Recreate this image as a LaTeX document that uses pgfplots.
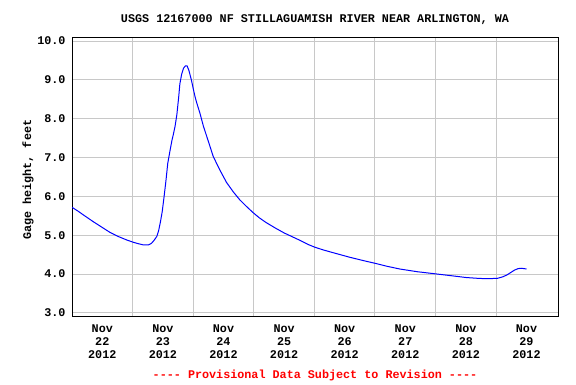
\documentclass[border=0pt]{standalone}
\usepackage{fontspec}
\setmainfont{Liberation Mono}
\usepackage{pgfplots}
\pgfplotsset{compat=1.18}
\definecolor{gridgray}{RGB}{200,200,200}
\newcommand\chartfont{\fontsize{11.8}{13}\selectfont\bfseries}
\begin{document}
\begin{tikzpicture}
\begin{axis}[
  scale only axis,
  width=486bp, height=278bp,
  xmin=0, xmax=8.02,
  ymin=2.92, ymax=10.08,
  axis line style={black, line width=1bp},
  ytick={3,4,5,6,7,8,9,10},
  yticklabel style={/pgf/number format/fixed, /pgf/number format/fixed zerofill, /pgf/number format/precision=1, /pgf/number format/assume math mode=true, font=\chartfont, xshift=-3bp},
  xtick={0.5,1.5,2.5,3.5,4.5,5.5,6.5,7.5},
  xticklabels={{Nov\\22\\2012},{Nov\\23\\2012},{Nov\\24\\2012},{Nov\\25\\2012},{Nov\\26\\2012},{Nov\\27\\2012},{Nov\\28\\2012},{Nov\\29\\2012}},
  xticklabel style={align=center, font=\chartfont, yshift=-5bp},
  minor xtick={1,2,3,4,5,6,7},
  xminorgrids=true, ymajorgrids=true,
  grid style={gridgray, line width=1bp},
  minor grid style={gridgray, line width=1bp},
  major tick length=0pt, minor tick length=0pt,
  ylabel={Gage height, feet},
  ylabel style={at={(axis description cs:-0.0905,0.49)}, anchor=center, font=\chartfont},
  clip=true,
]
\addplot[blue, line width=1bp] coordinates {
(0.00,5.72) (0.10,5.62) (0.20,5.51) (0.35,5.35) (0.50,5.20) (0.63,5.07) (0.76,4.97) (0.90,4.88)
(1.01,4.82) (1.10,4.78) (1.18,4.75) (1.26,4.75) (1.31,4.79) (1.35,4.86) (1.40,4.97) (1.43,5.12)
(1.46,5.35) (1.49,5.62) (1.52,6.00) (1.55,6.40) (1.58,6.85) (1.62,7.20) (1.65,7.45) (1.67,7.58)
(1.70,7.80) (1.73,8.10) (1.76,8.55) (1.78,8.90) (1.81,9.15) (1.84,9.30) (1.87,9.36) (1.90,9.36)
(1.93,9.24) (1.97,9.00) (2.00,8.78) (2.03,8.57) (2.06,8.40) (2.11,8.15) (2.17,7.80) (2.25,7.42)
(2.33,7.03) (2.44,6.68) (2.55,6.36) (2.66,6.12) (2.77,5.91) (2.88,5.74) (2.99,5.58) (3.09,5.45)
(3.20,5.33) (3.35,5.19) (3.50,5.06) (3.65,4.95) (3.76,4.87) (3.90,4.76) (4.01,4.69) (4.15,4.62)
(4.31,4.55) (4.45,4.49) (4.59,4.43) (4.80,4.35) (5.02,4.27) (5.20,4.20) (5.41,4.13) (5.70,4.06)
(6.03,4.00) (6.30,3.95) (6.51,3.91) (6.70,3.89) (6.84,3.88) (7.02,3.89) (7.11,3.93) (7.18,3.98)
(7.25,4.05) (7.30,4.10) (7.36,4.14) (7.42,4.15) (7.50,4.13)
};
\end{axis}
\node[anchor=base, font=\chartfont] at ([yshift=15.5bp]current axis.north) {USGS 12167000 NF STILLAGUAMISH RIVER NEAR ARLINGTON, WA};
\node[anchor=base, text=red, font=\chartfont] at ([yshift=-62.5bp]current axis.south) {{-}{-}{-}{-} Provisional Data Subject to Revision {-}{-}{-}{-}};
\path (current axis.south west) ++(-72bp,-68bp) rectangle ++(576bp,384bp);
\end{tikzpicture}
\end{document}
